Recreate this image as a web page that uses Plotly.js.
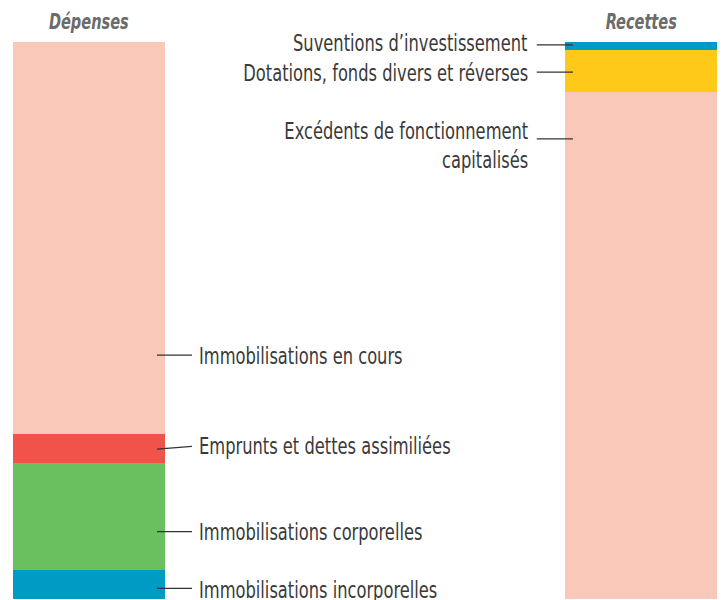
<!DOCTYPE html>
<html>
<head>
<meta charset="utf-8">
<script src="https://cdn.plot.ly/plotly-3.0.1.min.js"></script>
<style>html,body{margin:0;padding:0;background:#fff;}#chart{width:724px;height:600px;}</style>
</head>
<body>
<div id="chart"></div>
<script>
// ---- data ----
const categories = ['Dépenses', 'Recettes'];
const depLabels = ['Immobilisations incorporelles', 'Immobilisations corporelles', 'Emprunts et dettes assimiliées', 'Immobilisations en cours'];
const depValues = [5.2, 19.2, 5.2, 70.4];
const recLabels = ['Excédents de fonctionnement<br>capitalisés', 'Dotations, fonds divers et réverses', 'Suventions d’investissement'];
const recValues = [91.0, 7.5, 1.5];

// ---- styles ----
const depColors = ['#009BC4', '#6ABF5E', '#EF5349', '#F9C8B9'];
const recColors = ['#F9C8B9', '#FEC919', '#009BC4'];
const FONT = '"DejaVu Sans Condensed", "Liberation Sans Narrow", sans-serif';
const LABEL_SIZE = 22.5, LABEL_SQUEEZE = 0.805;
const TITLE_SIZE = 21, TITLE_SQUEEZE = 0.77;
const barW = 0.2754;
// label anchor heights (as % of bar) and line geometry
const depLabelY = [1.7, 12.0, 27.5, 43.7];
const depLineY0 = [1.9, 12.1, 26.9, 43.8];
const depLineY1 = [1.9, 12.1, 27.4, 43.8];
const recLabelY = [81.4, 94.4, 99.9];
const recLineY = [82.6, 94.6, 99.5];

const traces = [];
depValues.forEach((v, i) => {
  traces.push({type: 'bar', x: [0], y: [v], width: barW, name: depLabels[i],
    marker: {color: depColors[i], line: {width: 0}}, hoverinfo: 'skip', showlegend: false});
});
recValues.forEach((v, i) => {
  traces.push({type: 'bar', x: [1], y: [v], width: barW, name: recLabels[i],
    marker: {color: recColors[i], line: {width: 0}}, hoverinfo: 'skip', showlegend: false});
});

const annotations = [];
const squeeze = [];  // [origin, factor] per annotation
const shapes = [];
const leftLineX0 = barW / 2 - 0.0145, leftLineX1 = 0.1866, leftTextX = 0.1957;
const rightLineX0 = 1 - barW / 2 - 0.0511, rightLineX1 = 1 - barW / 2 + 0.0145, rightTextX = 0.7989;

depLabels.forEach((t, i) => {
  annotations.push({x: leftTextX, y: depLabelY[i], xref: 'x', yref: 'y', text: t, showarrow: false,
    xanchor: 'left', yanchor: 'middle', align: 'left', font: {family: FONT, size: LABEL_SIZE, color: '#3a3a3a'}});
  squeeze.push(['left center', LABEL_SQUEEZE]);
  shapes.push({type: 'line', xref: 'x', yref: 'y', x0: leftLineX0, x1: leftLineX1, y0: depLineY0[i], y1: depLineY1[i],
    line: {color: '#333', width: 1.3}});
});
recLabels.forEach((t, i) => {
  annotations.push({x: rightTextX, y: recLabelY[i], xref: 'x', yref: 'y', text: t, showarrow: false,
    xanchor: 'right', yanchor: 'middle', align: 'right', font: {family: FONT, size: LABEL_SIZE, color: '#3a3a3a'}});
  squeeze.push(['right center', LABEL_SQUEEZE]);
  shapes.push({type: 'line', xref: 'x', yref: 'y', x0: rightLineX0, x1: rightLineX1, y0: recLineY[i], y1: recLineY[i],
    line: {color: '#333', width: 1.3}});
});
categories.forEach((c, i) => {
  annotations.push({x: i, y: 1 + 20 / 557, xref: 'x', yref: 'paper', text: '<b><i>' + c + '</i></b>', showarrow: false,
    xanchor: 'center', yanchor: 'middle', font: {family: FONT, size: TITLE_SIZE, color: '#6b6b6b'}});
  squeeze.push(['center center', TITLE_SQUEEZE]);
});

const layout = {
  width: 724, height: 600,
  margin: {l: 0, r: 0, t: 42, b: 1, pad: 0},
  paper_bgcolor: '#fff', plot_bgcolor: '#fff',
  barmode: 'stack', bargap: 0,
  xaxis: {range: [-0.1612, 1.1504], visible: false, fixedrange: true},
  yaxis: {range: [0, 100], visible: false, fixedrange: true},
  annotations: annotations,
  shapes: shapes,
  showlegend: false
};
Plotly.newPlot('chart', traces, layout, {staticPlot: true, displayModeBar: false}).then(gd => {
  gd.querySelectorAll('g.annotation').forEach(g => {
    const idx = +g.getAttribute('data-index');
    const s = squeeze[idx];
    const txt = g.querySelector('text.annotation-text');
    if (!s || !txt) return;
    txt.style.transformBox = 'fill-box';
    txt.style.transformOrigin = s[0];
    txt.style.transform = 'scaleX(' + s[1] + ')';
  });
});
</script>
</body>
</html>
